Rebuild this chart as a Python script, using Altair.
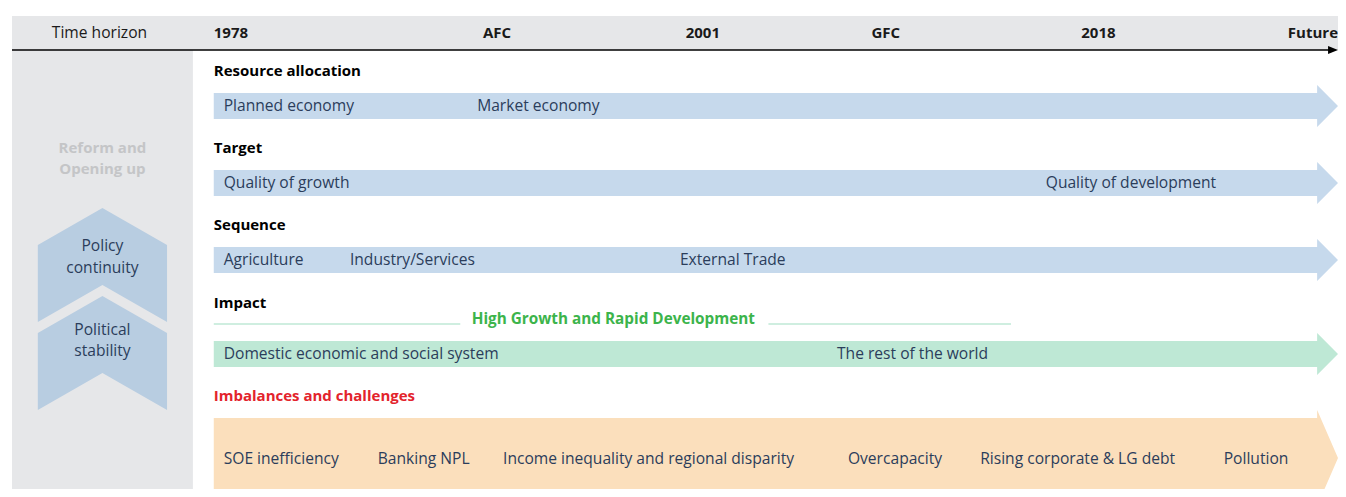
import altair as alt
import pandas as pd

# ---------------- content ----------------
time_label = "Time horizon"
milestones = ["1978", "AFC", "2001", "GFC", "2018", "Future"]
side_title = ["Reform and", "Opening up"]
pillars = [["Policy", "continuity"], ["Political", "stability"]]
sections = ["Resource allocation", "Target", "Sequence", "Impact"]
challenge_title = "Imbalances and challenges"
growth_title = "High Growth and Rapid Development"
row_labels = [
    ["Planned economy", "Market economy"],
    ["Quality of growth", "Quality of development"],
    ["Agriculture", "Industry/Services", "External Trade"],
    ["Domestic economic and social system", "The rest of the world"],
]
challenges = ["SOE inefficiency", "Banking NPL", "Income inequality and regional disparity",
              "Overcapacity", "Rising corporate & LG debt", "Pollution"]

# ---------------- layout (page pixel grid) ----------------
milestone_x = [215, 500, 707, 891, 1105, 1346]
milestone_align = ["left", "center", "center", "center", "center", "right"]
section_y = [71, 148, 225, 303]
row_y = [106, 183, 260, 354]
row_fill = ["#c6d9ec", "#c6d9ec", "#c6d9ec", "#bee8d5"]
row_label_x = [[225, 480], [225, 1052], [225, 352, 684], [225, 842]]
challenge_x = [225, 380, 506, 853, 986, 1231]
pillar_top = [208, 296]
pillar_y_text = [[246, 268], [330, 351]]

X0, X_HEAD, X_TIP = 215, 1325, 1346
BODY_H, HEAD_H = 13, 21

TEXT = "#2b3d5b"
GRAY = "#e6e7e9"
FONT = "Open Sans"
BODY_SIZE = 15.6

W, H = 1330, 481
xs = alt.Scale(domain=[8, 1346], range=[0, W])
ys = alt.Scale(domain=[8, 8 + H], range=[0, H])

# ---------------- shapes ----------------
shape_rows = []
def add_arrow(sid, cy, bh, hh, fill):
    pts = [(X0, cy - bh, cy + bh), (X_HEAD, cy - bh, cy + bh),
           (X_HEAD + 0.01, cy - hh, cy + hh), (X_TIP, cy, cy)]
    for x, y, y2 in pts:
        shape_rows.append(dict(sid=sid, x=x, y=y, y2=y2, fill=fill))

for i, (cy, f) in enumerate(zip(row_y, row_fill)):
    add_arrow(f"row{i}", cy, BODY_H, HEAD_H, f)
add_arrow("challenge", 458, 40, 48, "#fbdfbc")

for j, top in enumerate(pillar_top):
    pts = [(38, top + 37, top + 114), (103, top, top + 77), (168, top + 37, top + 114)]
    for x, y, y2 in pts:
        shape_rows.append(dict(sid=f"pillar{j}", x=x, y=y, y2=y2, fill="#b8cde1"))

# header arrowhead
for x, y, y2 in [(1336, 46, 54), (1346, 50, 50)]:
    shape_rows.append(dict(sid="hdr", x=x, y=y, y2=y2, fill="#000000"))

shapes = pd.DataFrame(shape_rows)

rects = pd.DataFrame([
    dict(x=12, x2=1346, y=16, y2=50),
    dict(x=12, x2=194, y=50, y2=497),
])

rules = pd.DataFrame([
    dict(x=12, x2=1337, y=50, c="#000000", w=1.3),
    dict(x=215, x2=463, y=324, c="#bfe9d6", w=1.5),
    dict(x=773, x2=1017, y=324, c="#bfe9d6", w=1.5),
])

# ---------------- texts ----------------
def tdf(items):
    return pd.DataFrame(items, columns=["t", "x", "y", "a"])

hdr_bold = tdf([(m, x, 33, a) for m, x, a in zip(milestones, milestone_x, milestone_align)])
hdr_reg = tdf([(time_label, 100, 33, "center")])
sec_txt = tdf([(s, 215, y, "left") for s, y in zip(sections, section_y)])
red_txt = tdf([(challenge_title, 215, 396, "left")])
green_txt = tdf([(growth_title, 617, 319, "center")])
side_txt = tdf([(s, 103, y, "center") for s, y in zip(side_title, [148, 169])])
body_items = []
for labels, xs_, cy in zip(row_labels, row_label_x, row_y):
    for l, x in zip(labels, xs_):
        body_items.append((l, x, cy, "left"))
for l, x in zip(challenges, challenge_x):
    body_items.append((l, x, 459, "left"))
for labels, yy in zip(pillars, pillar_y_text):
    for l, y in zip(labels, yy):
        body_items.append((l, 103, y, "center"))
body_txt = tdf(body_items)

def text_layer(df, color, weight, size=15):
    layers = []
    for a in ["left", "center", "right"]:
        sub = df[df["a"] == a]
        if len(sub) == 0:
            continue
        layers.append(
            alt.Chart(sub).mark_text(align=a, baseline="middle", font=FONT,
                                     fontSize=size, fontWeight=weight, color=color)
            .encode(x=alt.X("x:Q", scale=xs, axis=None),
                    y=alt.Y("y:Q", scale=ys, axis=None),
                    text="t:N")
        )
    return layers

rect_layer = alt.Chart(rects).mark_rect(color=GRAY, clip=True).encode(
    x=alt.X("x:Q", scale=xs, axis=None), x2="x2:Q",
    y=alt.Y("y:Q", scale=ys, axis=None), y2="y2:Q")

shape_layer = alt.Chart(shapes).mark_area(orient="vertical", interpolate="linear",
                                          clip=True, opacity=1).encode(
    x=alt.X("x:Q", scale=xs, axis=None),
    y=alt.Y("y:Q", scale=ys, axis=None, stack=None), y2="y2:Q",
    detail="sid:N",
    fill=alt.Fill("fill:N", scale=None))

rule_layer = alt.Chart(rules).mark_rule().encode(
    x=alt.X("x:Q", scale=xs, axis=None), x2="x2:Q",
    y=alt.Y("y:Q", scale=ys, axis=None),
    color=alt.Color("c:N", scale=None),
    strokeWidth=alt.StrokeWidth("w:Q", scale=None))

layers = [rect_layer, shape_layer, rule_layer]
layers += text_layer(hdr_bold, "#1a1a1a", "bold")
layers += text_layer(hdr_reg, "#1a1a1a", "normal", BODY_SIZE)
layers += text_layer(sec_txt, "#000000", "bold")
layers += text_layer(red_txt, "#e3232c", "bold")
layers += text_layer(green_txt, "#3cb44b", "bold", 15.3)
layers += text_layer(side_txt, "#c4c5c7", "bold")
layers += text_layer(body_txt, TEXT, "normal", BODY_SIZE)

chart = alt.layer(*layers).properties(
    width=W, height=H, padding=0,
    autosize=alt.AutoSizeParams(type="none"),
).configure_view(stroke=None)

chart.save("out.html", embed_options={"renderer": "svg", "actions": False})
